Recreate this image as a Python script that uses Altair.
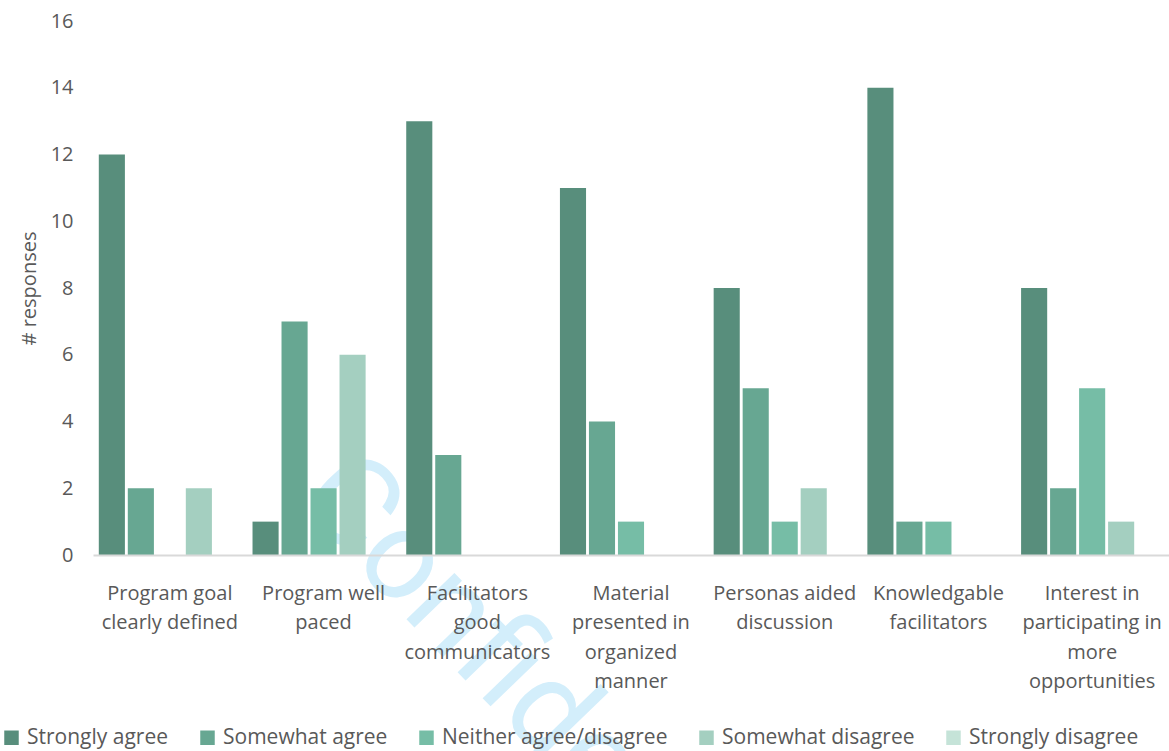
import altair as alt
import pandas as pd

categories = [
    "Program goal|clearly defined",
    "Program well|paced",
    "Facilitators|good|communicators",
    "Material|presented in|organized|manner",
    "Personas aided|discussion",
    "Knowledgable|facilitators",
    "Interest in|participating in|more|opportunities",
]
series = ["Strongly agree", "Somewhat agree", "Neither agree/disagree",
          "Somewhat disagree", "Strongly disagree"]
strongly_agree = [12, 1, 13, 11, 8, 14, 8]
somewhat_agree = [2, 7, 3, 4, 5, 1, 2]
neither = [0, 2, 0, 1, 1, 1, 5]
somewhat_disagree = [2, 6, 0, 0, 2, 0, 1]
strongly_disagree = [0, 0, 0, 0, 0, 0, 0]
colors = ["#588E7C", "#67A792", "#76BDA6", "#A4CFC0", "#C5E3D8"]
y_ticks = [0, 2, 4, 6, 8, 10, 12, 14, 16]
watermark_text = ["Confidential"]

all_values = [strongly_agree, somewhat_agree, neither, somewhat_disagree, strongly_disagree]
rows = []
for s, vals in zip(series, all_values):
    for c, v in zip(categories, vals):
        rows.append({"category": c, "series": s, "value": v})
df = pd.DataFrame(rows)

FONT = "Open Sans"
GREY = "#595959"

watermark = alt.Chart(pd.DataFrame({"t": watermark_text})).mark_text(
    align="left", baseline="middle", angle=46, fontSize=126,
    font="Roboto", color="#D3EEFB"
).encode(text="t:N", x=alt.value(228), y=alt.value(455))

bars = alt.Chart(df).mark_bar().encode(
    x=alt.X("category:N", sort=categories,
            scale=alt.Scale(paddingInner=0, paddingOuter=0),
            axis=alt.Axis(title=None, labelAngle=0,
                          labelExpr="split(datum.label, '|')",
                          labelFont=FONT, labelFontSize=20, labelColor=GREY,
                          labelLineHeight=29.5, labelPadding=28,
                          labelBaseline="top", zindex=1,
                          ticks=False, domainColor="#D9D9D9", domainWidth=2)),
    xOffset=alt.XOffset("series:N", sort=series,
                        scale=alt.Scale(paddingInner=0.1, paddingOuter=0.2)),
    y=alt.Y("value:Q", scale=alt.Scale(domain=[0, 16], nice=False),
            axis=alt.Axis(values=y_ticks, title="# responses", grid=False,
                          domain=False, ticks=False, labelPadding=20,
                          labelFont=FONT, labelFontSize=20, labelColor=GREY,
                          titleFont=FONT, titleFontSize=20, titleColor=GREY,
                          titleFontWeight="normal", titlePadding=11)),
    color=alt.Color("series:N", sort=series,
                    scale=alt.Scale(domain=series, range=colors),
                    legend=alt.Legend(title=None, orient="none", legendX=-92,
                                      legendY=706, direction="horizontal",
                                      symbolType="square", symbolSize=210,
                                      symbolStrokeWidth=0, labelFont=FONT,
                                      labelFontSize=21, labelColor=GREY,
                                      labelLimit=400, zindex=1,
                                      labelOffset=5, columnPadding=28)),
)

chart = alt.layer(watermark, bars).properties(
    width=1076, height=534,
    padding={"left": 93, "top": 21, "right": 0, "bottom": 196},
    autosize=alt.AutoSizeParams(type="none"),
).configure_view(stroke=None)

chart.save("out.html", embed_options={"renderer": "svg", "actions": False})
